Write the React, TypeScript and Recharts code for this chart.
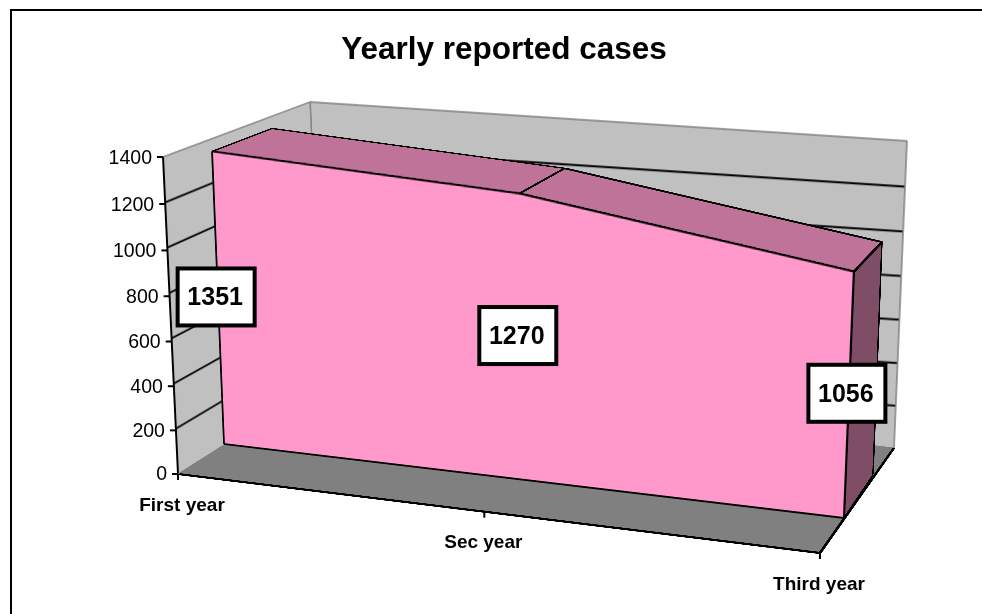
import React from 'react';
import { AreaChart, Area, ComposedChart, Line, XAxis, YAxis, CartesianGrid, ReferenceLine } from 'recharts';

const years = ['First year', 'Sec year', 'Third year'];
const cases = [1351, 1270, 1056];
const yTicks = [0, 200, 400, 600, 800, 1000, 1200, 1400];
const gridValues = [200, 400, 600, 800, 1000, 1200];
const title = 'Yearly reported cases';

const rows = years.map((year, i) => ({ year, cases: cases[i] }));
const yMax = 1400;
const FONT = '"Liberation Sans", Arial, sans-serif';

type Pt = [number, number];

// maps the unit square onto a quad (TL, TR, BR, BL), used for the fake 3d
function plane(q: Pt[]) {
  const [[x0, y0], [x1, y1], [x2, y2], [x3, y3]] = q;
  const dx1 = x1 - x2, dx2 = x3 - x2, sx = x0 - x1 + x2 - x3;
  const dy1 = y1 - y2, dy2 = y3 - y2, sy = y0 - y1 + y2 - y3;
  const den = dx1 * dy2 - dx2 * dy1;
  const g = (sx * dy2 - dx2 * sy) / den;
  const h = (dx1 * sy - sx * dy1) / den;
  const a = x1 - x0 + g * x1, b = x3 - x0 + h * x3;
  const d = y1 - y0 + g * y1, e = y3 - y0 + h * y3;
  return {
    at: (u: number, v: number): Pt => {
      const w = g * u + h * v + 1;
      return [(a * u + b * v + x0) / w, (d * u + e * v + y0) / w];
    },
    css: (W: number, H: number, m: number) =>
      `matrix3d(${a / W},${d / W},0,${g / W},${b / H},${e / H},0,${h / H},0,0,1,0,${x0},${y0},0,1) translate(${-m}px,${-m}px)`,
  };
}

// u along the years, f = value / yMax
const wallFront = plane([[163, 157], [835, 208], [820, 553], [178, 474]]);
const areaFront = plane([[211.6, 140.4], [857.3, 187.9], [844, 518], [224, 444]]);
const areaBack = plane([[271.6, 118], [885, 163], [873, 475], [283, 406]]);
const top = (p: ReturnType<typeof plane>, u: number, f: number) => p.at(u, 1 - f);

const M = 4;
const THIN = 0.01; // an axis of size 0 is not drawn at all
const BLACK = { stroke: '#000', strokeWidth: 2 };

const dist = (a: Pt, b: Pt) => Math.hypot(a[0] - b[0], a[1] - b[1]);

// chart is laid out at about its size on screen, so the lines stay clean once warped
function Panel({ quad, data, children }: { quad: Pt[]; data: any[]; children: React.ReactNode }) {
  const W = Math.ceil(Math.max(dist(quad[0], quad[1]), dist(quad[3], quad[2])));
  const H = Math.ceil(Math.max(dist(quad[0], quad[3]), dist(quad[1], quad[2])));
  return (
    <div style={{ position: 'absolute', left: 0, top: 0, transformOrigin: '0 0', transform: plane(quad).css(W, H, M) }}>
      <AreaChart width={W + 2 * M} height={H + 2 * M} data={data} margin={{ top: M, right: M, bottom: M, left: M }}>
        {children}
      </AreaChart>
    </div>
  );
}

// width w is thicker on the panels that get squashed by the warp
const line = (c: string, w: number) => ({ stroke: c, strokeWidth: c === '#000' ? w : 1.5 });

const edgeAxes = (left: string, right: string, bottom: string | null, topEdge: string | null, w = 2) => (
  <>
    <XAxis dataKey="year" height={THIN} tick={false} tickLine={false} axisLine={bottom ? line(bottom, w) : false} />
    {topEdge && <XAxis xAxisId="t" orientation="top" dataKey="year" height={THIN} tick={false} tickLine={false} axisLine={line(topEdge, w)} />}
    <YAxis domain={[0, yMax]} ticks={yTicks} width={THIN} tick={false} tickLine={false} axisLine={line(left, w)} />
    <YAxis yAxisId="r" orientation="right" domain={[0, yMax]} width={THIN} tick={false} tickLine={false} axisLine={line(right, w)} />
  </>
);

const Wall = ({ quad, left }: { quad: Pt[]; left: string }) => (
  <Panel quad={quad} data={rows}>
    <CartesianGrid vertical={false} fill="#C0C0C0" stroke="none" />
    {edgeAxes(left, '#808080', null, '#808080')}
    <Area dataKey="cases" stroke="none" fill="none" isAnimationActive={false} />
    {gridValues.map((v) => (
      <ReferenceLine key={v} y={v} {...BLACK} />
    ))}
  </Panel>
);

// one flat side of the extruded area, its corners come from the values
const Face = ({ quad, fill }: { quad: Pt[]; fill: string }) => (
  <Panel quad={quad} data={[{ year: 'a', full: yMax }, { year: 'b', full: yMax }]}>
    {edgeAxes('#000', '#000', '#000', null, 3)}
    <Area dataKey="full" type="linear" fill={fill} fillOpacity={1} stroke="#000" strokeWidth={3} isAnimationActive={false} />
  </Panel>
);

const L = 178;
const R = 820;
const T = 157;
const B = 474;

const YTick = ({ y, payload }: any) => {
  const [px, py] = top(wallFront, 0, (B - y) / (B - T));
  return (
    <g>
      <line x1={px - 6} x2={px} y1={py} y2={py} {...BLACK} />
      <text x={px - 11} y={py + 6.5} textAnchor="end" fontFamily={FONT} fontSize={19.5} fill="#000">{payload.value}</text>
    </g>
  );
};

const xLabelShift = [4, -1, -1];

const XTick = ({ x, payload, index }: any) => {
  const [px, py] = top(wallFront, (x - L) / (R - L), 0);
  return (
    <g>
      <line x1={px} x2={px} y1={py} y2={py + 6} {...BLACK} />
      <text x={px + xLabelShift[index]} y={py + 36.5} textAnchor="middle" fontFamily={FONT} fontWeight="bold" fontSize={19} fill="#000">{payload.value}</text>
    </g>
  );
};

const CaseLabel = ({ x, y, value }: any) => {
  const [px, py] = top(areaFront, (x - L) / (R - L), (B - y) / (B - T) / 2);
  return (
    <g>
      <rect x={px - 40.5} y={py - 32} width={77} height={57} fill="#fff" stroke="#000" strokeWidth={4} />
      <text x={px - 3} y={py + 5} textAnchor="middle" fontFamily={FONT} fontWeight="bold" fontSize={25} fill="#000">{value}</text>
    </g>
  );
};

export default function App() {
  const n = cases.length - 1;
  const f = (i: number) => cases[i] / yMax;
  return (
    <div style={{ position: 'absolute', left: 0, top: 0, width: 982, height: 614, overflow: 'hidden', background: '#fff' }}>
      <div style={{ position: 'absolute', left: 10, top: 9, width: 1000, height: 640, borderLeft: '2px solid #000', borderTop: '2px solid #000' }} />

      <Wall quad={[[310, 102], [907, 141], [894, 448], [323, 410]]} left="#808080" />
      <Wall quad={[[163, 157], [310, 102], [323, 382], [178, 474]]} left="#000" />
      <Panel quad={[[323, 382], [894, 448], [820, 553], [178, 474]]} data={rows}>
        <CartesianGrid horizontal={false} vertical={false} fill="#808080" />
        {edgeAxes('#808080', '#000', '#000', '#808080', 3)}
      </Panel>

      <Face
        quad={[top(areaFront, 1, f(n)), top(areaBack, 1, f(n)), top(areaBack, 1, 0), top(areaFront, 1, 0)]}
        fill="#804D66"
      />
      {cases.slice(0, n).map((_, i) => (
        <Face
          key={i}
          quad={[top(areaBack, i / n, f(i)), top(areaBack, (i + 1) / n, f(i + 1)), top(areaFront, (i + 1) / n, f(i + 1)), top(areaFront, i / n, f(i))]}
          fill="#BF7399"
        />
      ))}
      <Panel quad={[top(areaFront, 0, 1), top(areaFront, 1, 1), top(areaFront, 1, 0), top(areaFront, 0, 0)]} data={rows}>
        <XAxis dataKey="year" height={THIN} tick={false} tickLine={false} axisLine={BLACK} />
        <YAxis domain={[0, yMax]} width={THIN} hide />
        <Area dataKey="cases" type="linear" fill="#FF99CC" fillOpacity={1} {...BLACK} isAnimationActive={false} />
        <ReferenceLine segment={[{ x: years[0], y: 0 }, { x: years[0], y: cases[0] }]} {...BLACK} />
        <ReferenceLine segment={[{ x: years[n], y: 0 }, { x: years[n], y: cases[n] }]} {...BLACK} />
      </Panel>

      <div style={{ position: 'absolute', left: 0, top: 0 }}>
        <ComposedChart width={982} height={614} data={rows} margin={{ top: T, right: 982 - R, bottom: 614 - B, left: L }}>
          <XAxis dataKey="year" height={THIN} axisLine={false} tickLine={false} interval={0} tick={XTick} />
          <YAxis domain={[0, yMax]} ticks={yTicks} width={THIN} axisLine={false} tickLine={false} interval={0} tick={YTick} />
          <Line dataKey="cases" stroke="none" dot={false} isAnimationActive={false} label={CaseLabel} />
          <text x={504} y={59} textAnchor="middle" fontFamily={FONT} fontWeight="bold" fontSize={31.5} fill="#000">{title}</text>
        </ComposedChart>
      </div>
    </div>
  );
}
